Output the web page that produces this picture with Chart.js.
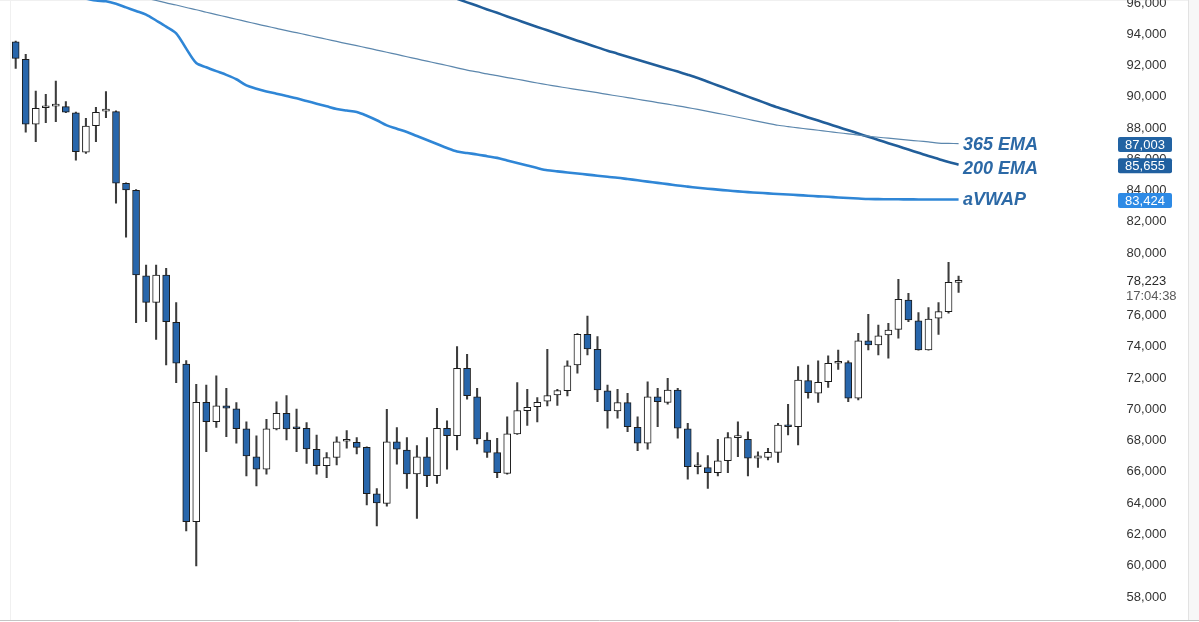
<!DOCTYPE html>
<html>
<head>
<meta charset="utf-8">
<script src="https://cdn.jsdelivr.net/npm/chart.js@4.4.1/dist/chart.umd.min.js"></script>
<style>
  html, body { margin: 0; padding: 0; background: #fff; }
</style>
</head>
<body>
<canvas id="chart" width="1199" height="622"></canvas>
<script>
// daily candles
const opens = [93520, 92400, 88240, 89300, 89400, 89370, 88980, 86450, 88150, 89080,
  89050, 84470, 84020, 78550, 76850, 78600, 75570, 72900, 62810, 70450,
  69210, 70220, 70040, 68750, 66970, 66170, 68750, 69750, 68790, 68780,
  67450, 66400, 66930, 67960, 67890, 67570, 64590, 63990, 67930, 67400,
  65870, 66970, 65760, 68790, 68320, 72630, 70810, 68040, 67230, 65910,
  68430, 69920, 70170, 70530, 70920, 71200, 72840, 74800, 73840, 71180,
  69900, 70430, 68850, 67830, 70810, 70450, 71240, 68750, 66330, 66270,
  65950, 66720, 68190, 68090, 66870, 66930, 67250, 68950, 68890, 71840,
  71030, 71770, 72950, 72990, 70710, 74380, 74120, 74760, 75120, 77000,
  75670, 73800, 75830, 76250, 78130];
const highs = [93560, 92720, 90370, 90160, 91010, 89690, 89020, 88620, 89330, 90330,
  89100, 84500, 84060, 79240, 79240, 79030, 76830, 73120, 71600, 71560,
  72140, 71350, 70430, 69210, 68300, 69370, 70490, 70880, 70020, 69150,
  68360, 67230, 68250, 68640, 68190, 67600, 64930, 70000, 68830, 68190,
  67680, 68190, 70070, 69260, 74010, 73520, 71350, 68510, 68150, 69530,
  71710, 71290, 70750, 73840, 71290, 73100, 74850, 75970, 74650, 71560,
  71290, 71030, 69530, 71770, 71350, 71990, 71350, 69110, 67230, 67040,
  68090, 68510, 69210, 68570, 67290, 67510, 69110, 70330, 72730, 72840,
  73100, 73420, 73800, 73100, 74870, 76080, 75400, 75510, 78320, 77430,
  76190, 76510, 76830, 79410, 78530];
const lows = [91820, 87730, 87130, 88340, 88410, 88980, 85950, 86380, 87130, 88660,
  83190, 81010, 75550, 75610, 74480, 72840, 71710, 62220, 59980, 67290,
  68850, 68250, 67830, 65740, 65100, 65850, 68680, 68040, 67290, 66550,
  65850, 65630, 66440, 67510, 67150, 63880, 62540, 63800, 66500, 64950,
  63030, 65050, 65270, 66170, 67400, 70660, 67790, 66930, 65630, 65850,
  68400, 68980, 69190, 70220, 70260, 70860, 72310, 73480, 70490, 68790,
  69430, 68570, 67360, 67450, 68890, 70340, 68150, 65530, 65870, 64950,
  65740, 65950, 66970, 65740, 66290, 66760, 66610, 68360, 67720, 70710,
  70450, 71410, 72560, 70490, 70600, 73800, 73480, 73270, 74550, 75610,
  73780, 73780, 74800, 76150, 77490];
const closes = [92460, 88240, 89260, 89340, 89420, 89010, 86490, 88130, 89010, 89100,
  84470, 84040, 78600, 76850, 78600, 75610, 72950, 62810, 70450, 69210,
  70220, 70070, 68760, 67020, 66170, 68750, 69750, 68750, 68760, 67470,
  66400, 66910, 67930, 68000, 67570, 64610, 64010, 67930, 67450, 65870,
  66970, 65760, 68790, 68320, 72630, 70880, 68110, 67250, 65950, 68430,
  69920, 70130, 70450, 70880, 71200, 72780, 74800, 73860, 71240, 69900,
  70430, 68890, 67830, 70810, 70490, 71240, 68790, 66330, 66380, 65950,
  66700, 68190, 68200, 66870, 67020, 67250, 69000, 68890, 71880, 71070,
  71730, 72950, 72990, 70710, 74380, 74120, 74710, 75080, 77040, 75720,
  73800, 75780, 76250, 78130, 78223];

const ema365 = [98250, 98100, 97950, 97800, 97650, 97500, 97360, 97210, 97060, 96910,
  96760, 96610, 96460, 96310, 96160, 96010, 95870, 95710, 95570, 95410,
  95260, 95110, 94960, 94810, 94660, 94520, 94380, 94230, 94100, 93960,
  93820, 93680, 93540, 93400, 93270, 93130, 92990, 92850, 92710, 92560,
  92420, 92280, 92140, 92000, 91850, 91710, 91590, 91460, 91350, 91230,
  91120, 91000, 90880, 90770, 90660, 90560, 90460, 90360, 90260, 90150,
  90050, 89950, 89840, 89740, 89630, 89530, 89420, 89310, 89190, 89070,
  88940, 88820, 88690, 88560, 88430, 88300, 88180, 88090, 88010, 87930,
  87860, 87780, 87700, 87630, 87550, 87480, 87410, 87350, 87290, 87230,
  87170, 87110, 87040, 87020, 87003];
const ema200 = [106400, 106170, 105940, 105710, 105480, 105250, 105020, 104790, 104560, 104330,
  104100, 103870, 103640, 103410, 103180, 102950, 102720, 102490, 102260, 102030,
  101800, 101570, 101330, 101100, 100870, 100640, 100410, 100180, 99950, 99720,
  99490, 99260, 99030, 98800, 98570, 98340, 98110, 97880, 97650, 97420,
  97190, 96960, 96730, 96500, 96270, 96040, 95820, 95590, 95370, 95140,
  94920, 94690, 94470, 94250, 94030, 93810, 93590, 93380, 93160, 92950,
  92760, 92560, 92370, 92180, 91990, 91800, 91610, 91410, 91200, 90960,
  90720, 90490, 90250, 90010, 89780, 89540, 89310, 89100, 88890, 88680,
  88480, 88270, 88060, 87860, 87650, 87440, 87240, 87030, 86830, 86620,
  86420, 86210, 86020, 85830, 85655];
const avwap = [96980, 96880, 96780, 96680, 96580, 96480, 96380, 96280, 96160, 96110,
  95950, 95720, 95490, 95260, 94880, 94490, 94060, 93080, 92160, 91890,
  91640, 91400, 91120, 90730, 90520, 90340, 90200, 90050, 89900, 89730,
  89560, 89390, 89220, 89120, 89030, 88790, 88500, 88170, 87960, 87750,
  87490, 87240, 86980, 86720, 86500, 86400, 86310, 86200, 86090, 85920,
  85760, 85600, 85440, 85300, 85230, 85160, 85090, 85020, 84950, 84880,
  84820, 84740, 84660, 84570, 84490, 84410, 84320, 84250, 84180, 84120,
  84060, 84000, 83950, 83900, 83860, 83820, 83780, 83750, 83710, 83670,
  83630, 83600, 83560, 83520, 83490, 83460, 83450, 83440, 83440, 83435,
  83432, 83430, 83428, 83426, 83424];

const lineNames = ['365 EMA', '200 EMA', 'aVWAP'];
// price axis labels (78,000 sits under the live price and is not shown)
const yTicks = [58000, 60000, 62000, 64000, 66000, 68000, 70000, 72000, 74000, 76000,
  80000, 82000, 84000, 86000, 88000, 90000, 92000, 94000, 96000];
const lastPrice = 78223;
const countdown = '17:04:38';
const yMin = 56524;
const yMax = 96192;

const days = opens.map((_, i) => 'D' + (i + 1));
const fmt = v => Math.round(v).toLocaleString('en-US');

const upColor = '#ffffff';
const downColor = '#2866ab';
const lineColors = ['#5c87ad', '#215e9a', '#2f86d6'];
const boxColors = ['#2263a3', '#2060a0', '#2d8ae5'];
const labelColor = '#2c69a6';

const overlay = {
  id: 'overlay',
  beforeDraw(chart) {
    const ctx = chart.ctx;
    ctx.save();
    ctx.fillStyle = '#fff';
    ctx.fillRect(0, 0, chart.width, chart.height);
    ctx.fillStyle = '#f7f7f7';
    ctx.fillRect(1189, 0, 10, 620);
    ctx.lineWidth = 1;
    ctx.strokeStyle = '#e2e2e2';
    ctx.beginPath(); ctx.moveTo(1188.5, 0); ctx.lineTo(1188.5, 620); ctx.stroke();
    ctx.strokeStyle = '#f0f0f0';
    ctx.beginPath(); ctx.moveTo(10.5, 0); ctx.lineTo(10.5, 620); ctx.stroke();
    ctx.beginPath(); ctx.moveTo(0, 0.5); ctx.lineTo(1188, 0.5); ctx.stroke();
    ctx.strokeStyle = '#c4c4c4';
    ctx.beginPath(); ctx.moveTo(0, 620.5); ctx.lineTo(1199, 620.5); ctx.stroke();
    ctx.restore();
  },
  afterDraw(chart) {
    const ctx = chart.ctx;
    const y = chart.scales.y;
    const ends = [ema365, ema200, avwap].map(a => a[a.length - 1]);
    ctx.save();
    // line names next to line ends
    ctx.font = 'italic bold 18px "Liberation Sans"';
    ctx.fillStyle = labelColor;
    ctx.textAlign = 'left';
    ctx.textBaseline = 'middle';
    const nameOffsets = [1.5, 4.5, 0.5];
    ends.forEach((v, k) => {
      ctx.fillText(lineNames[k], 963, y.getPixelForValue(v) + nameOffsets[k]);
    });
    // price tags on the axis
    ctx.font = '13px "Liberation Sans"';
    ctx.textAlign = 'center';
    ends.forEach((v, k) => {
      const py = y.getPixelForValue(v) + 1;
      ctx.fillStyle = boxColors[k];
      ctx.beginPath();
      ctx.roundRect(1118, py - 7.5, 54, 15, 2);
      ctx.fill();
      ctx.fillStyle = '#fff';
      ctx.fillText(fmt(v), 1145, py + 0.5);
    });
    // last price + countdown
    const ly = y.getPixelForValue(lastPrice);
    ctx.textAlign = 'left';
    ctx.fillStyle = '#2a2a2a';
    ctx.fillText(fmt(lastPrice), 1126.5, ly + 1);
    ctx.fillStyle = '#5a5a5a';
    ctx.fillText(countdown, 1126, ly + 15.5);
    ctx.restore();
  }
};

new Chart(document.getElementById('chart'), {
  type: 'bar',
  data: {
    labels: days,
    datasets: [
      {
        type: 'line', label: lineNames[0], data: ema365,
        borderColor: lineColors[0], borderWidth: 1.2, pointRadius: 0, tension: 0.3
      },
      {
        type: 'line', label: lineNames[1], data: ema200,
        borderColor: lineColors[1], borderWidth: 2.6, pointRadius: 0, tension: 0.3
      },
      {
        type: 'line', label: lineNames[2], data: avwap,
        borderColor: lineColors[2], borderWidth: 2.6, pointRadius: 0, tension: 0.3
      },
      {
        label: 'body',
        data: opens.map((o, i) => [o, closes[i]]),
        backgroundColor: ctx => closes[ctx.dataIndex] < opens[ctx.dataIndex] ? downColor : upColor,
        borderColor: '#1c1c1c',
        borderWidth: 1,
        borderSkipped: false,
        barThickness: 7,
        minBarLength: 2,
        grouped: false
      },
      {
        label: 'wick',
        data: lows.map((l, i) => [l, highs[i]]),
        backgroundColor: '#3c3c3c',
        borderWidth: 0,
        barThickness: 1.4,
        grouped: false
      }
    ]
  },
  options: {
    responsive: false,
    animation: false,
    devicePixelRatio: 1,
    layout: { padding: { left: 10.68, right: 0, top: 0, bottom: 2 } },
    plugins: { legend: { display: false }, tooltip: { enabled: false } },
    scales: {
      x: { display: false },
      y: {
        position: 'right',
        min: yMin,
        max: yMax,
        grid: { display: false, drawTicks: false },
        border: { display: false },
        ticks: {
          autoSkip: false,
          padding: 163,
          color: '#333',
          font: { family: 'Liberation Sans', size: 13 },
          callback: v => fmt(v)
        },
        afterBuildTicks: s => {
          s.ticks = yTicks.map(v => ({ value: v }));
        },
        afterFit: s => {
          s.width = 1199 - 963.6;
          s.paddingTop = 0;
          s.paddingBottom = 0;
        }
      }
    }
  },
  plugins: [overlay]
});
</script>
</body>
</html>
